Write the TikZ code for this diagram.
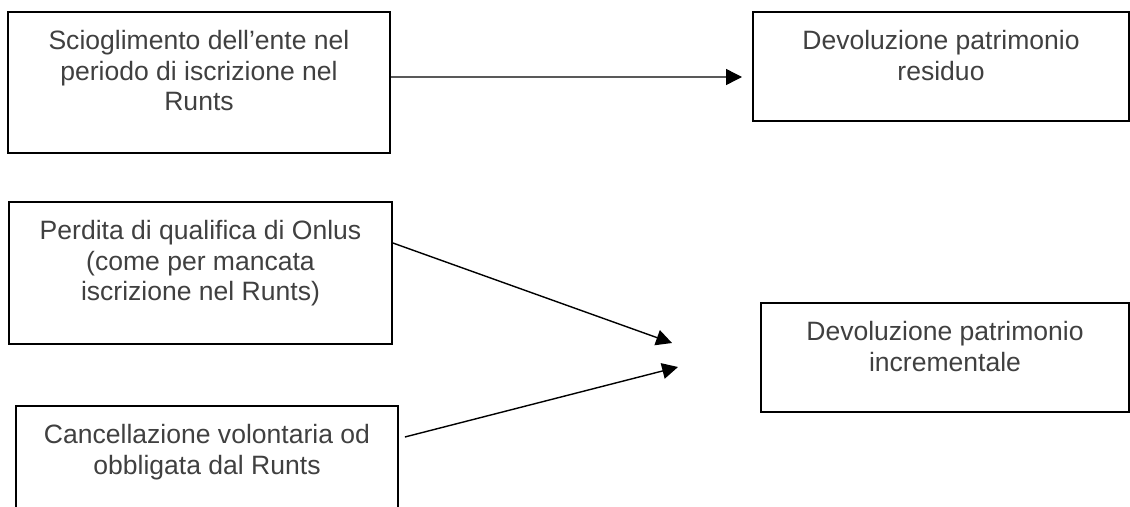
\documentclass[tikz,border=0pt]{standalone}
\usepackage{fontspec}
\setmainfont{Liberation Sans}
\usetikzlibrary{positioning,arrows.meta}
\definecolor{textgray}{RGB}{64,64,64}

\begin{document}
\begin{tikzpicture}
\tikzset{box/.style={draw, line width=1pt, fill=white, inner sep=0pt},
  txt/.style={inner sep=0pt, align=center, text=textgray, font=\fontsize{15.1}{17.4}\selectfont},
  arr/.style={line width=0.8pt, -{Triangle[length=9pt,width=9pt]}}}
\useasboundingbox (0,0) rectangle (22.6,10.12);

% Boxes for causes
\node[box, minimum width=7.64cm, minimum height=2.82cm] at (3.98,8.47) (sciog) {};
\node[box, minimum width=7.66cm, minimum height=2.84cm] at (4.01,4.66) (perdita) {};
\node[box, anchor=north, minimum width=7.64cm, minimum height=2.84cm] at (4.14,2.02) (canc) {};

% Boxes for effects
\node[box, minimum width=7.52cm, minimum height=2.18cm] at (18.82,8.79) (resid) {};
\node[box, minimum width=7.36cm, minimum height=2.18cm] at (18.90,2.97) (incr) {};

% Texts
\node[txt, below=0.38cm of sciog.north] (sciogT) {Scioglimento dell’ente nel\\periodo di iscrizione nel\\Runts};
\node[txt, below=0.38cm of perdita.north] (perditaT) {Perdita di qualifica di Onlus\\(come per mancata\\iscrizione nel Runts)};
\node[txt, below=0.38cm of canc.north] (cancT) {Cancellazione volontaria od\\obbligata dal Runts};
\node[txt, below=0.38cm of resid.north] (residT) {Devoluzione patrimonio\\residuo};
\node[txt, below=0.38cm of incr.north] (incrT) {Devoluzione patrimonio\\incrementale};

% Arrow ends
\coordinate (tipR) at (14.84,8.58);
\coordinate (tipA) at (13.44,3.26);
\coordinate (tipB) at (13.56,2.78);

% Arrows
\draw[arr] ([yshift=0.11cm]sciog.east) -- (tipR);
\draw[arr] ([yshift=0.6cm]perdita.east) -- (tipA);
\draw[arr] ([xshift=0.12cm,yshift=-0.64cm]canc.north east) -- (tipB);
\end{tikzpicture}
\end{document}
